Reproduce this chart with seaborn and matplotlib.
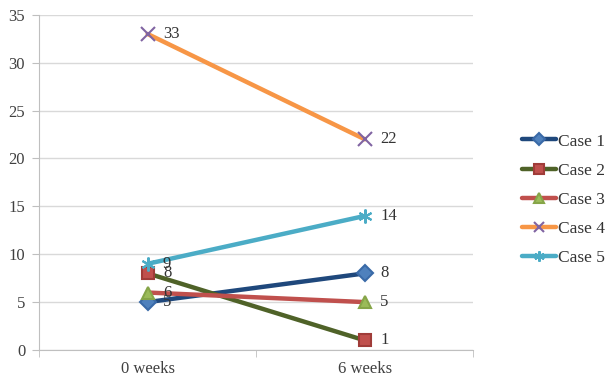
import pandas as pd
import seaborn as sns
import matplotlib.pyplot as plt

weeks = ['0 weeks', '6 weeks']
cases = ['Case 1', 'Case 2', 'Case 3', 'Case 4', 'Case 5']
case1 = [5, 8]
case2 = [8, 1]
case3 = [6, 5]
case4 = [33, 22]
case5 = [9, 14]

values = [case1, case2, case3, case4, case5]
rows = []
for name, vals in zip(cases, values):
    for i, v in enumerate(vals):
        rows.append({'case': name, 'pos': i, 'week': weeks[i], 'value': v})
df = pd.DataFrame(rows)

# line colour, marker, marker face, marker edge, marker size
styles = {
    'Case 1': ('#1F487C', 'D', '#4F81BD', '#3A6AA8', 8),
    'Case 2': ('#4F6228', 's', '#C0504D', '#A03C39', 9),
    'Case 3': ('#C0504D', '^', '#9BBB59', '#86A548', 9),
    'Case 4': ('#F79646', 'x', '#8064A2', '#8064A2', 10),
    'Case 5': ('#4BACC6', (6, 2, 0), '#4BACC6', '#4BACC6', 10),
}

sns.set_style('white')
plt.rcParams['font.family'] = ['Liberation Serif', 'DejaVu Serif']

fig = plt.figure(figsize=(6.05, 3.8), dpi=100)
ax = fig.add_axes([0.0645, 0.079, 0.718, 0.882])

for name in cases:
    sub = df[df['case'] == name]
    lc, mk, mf, me, ms = styles[name]
    sns.lineplot(data=sub, x='pos', y='value', ax=ax, color=lc, linewidth=3.2,
                 marker=mk, markersize=ms, markerfacecolor=mf, markeredgecolor=me,
                 markeredgewidth=1.5, label=name, zorder=3)
    for _, r in sub.iterrows():
        ax.annotate(str(r['value']), (r['pos'], r['value']), xytext=(11, 0),
                    textcoords='offset points', va='center', ha='left',
                    fontsize=12, color='#333333', zorder=4)

ax.set_xlim(-0.5, 1.5)
ax.set_ylim(0, 35)
ax.set_yticks(range(0, 36, 5))
ax.set_xticks([0, 1])
ax.set_xticklabels(weeks)
ax.set_xticks([-0.5, 0.5, 1.5], minor=True)
ax.set_xlabel('')
ax.set_ylabel('')
ax.yaxis.grid(True, color='#D9D9D9', linewidth=1)
ax.set_axisbelow(True)
for s in ['top', 'right']:
    ax.spines[s].set_visible(False)
for s in ['left', 'bottom']:
    ax.spines[s].set_color('#BFBFBF')
ax.tick_params(axis='y', which='major', length=5, color='#BFBFBF', labelsize=12,
               labelcolor='#404040', direction='out', left=True, pad=5)
ax.tick_params(axis='x', which='major', length=0, labelsize=12, labelcolor='#404040', pad=8)
ax.tick_params(axis='x', which='minor', length=5, color='#BFBFBF', direction='out', bottom=True)

leg = ax.legend(loc='center left', bbox_to_anchor=(1.075, 0.448), frameon=False,
                fontsize=12.5, handlelength=2.0, handletextpad=0.1, labelspacing=0.75,
                markerscale=0.75)
for t in leg.get_texts():
    t.set_color('#333333')

fig.savefig('out.png', dpi=100)
